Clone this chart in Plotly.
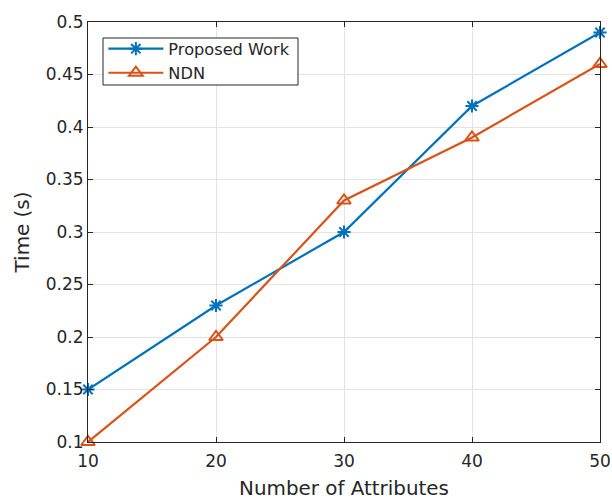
import plotly.graph_objects as go

attributes = [10, 20, 30, 40, 50]
proposed_work = [0.15, 0.23, 0.30, 0.42, 0.49]
ndn = [0.10, 0.20, 0.33, 0.39, 0.46]
x_ticks = [10, 20, 30, 40, 50]
y_ticks = [0.1, 0.15, 0.2, 0.25, 0.3, 0.35, 0.4, 0.45, 0.5]
y_tick_text = ["0.1", "0.15", "0.2", "0.25", "0.3", "0.35", "0.4", "0.45", "0.5"]

FONT = "DejaVu Sans"
TXT = "#262626"

fig = go.Figure()
fig.add_trace(go.Scatter(
    x=attributes, y=proposed_work, name="Proposed Work", mode="lines+markers",
    line=dict(color="#0072BD", width=2.2),
    marker=dict(symbol="asterisk-open", size=11, color="#0072BD",
                line=dict(color="#0072BD", width=2)),
    cliponaxis=False,
))
fig.add_trace(go.Scatter(
    x=attributes, y=ndn, name="NDN", mode="lines+markers",
    line=dict(color="#D95319", width=2.2),
    marker=dict(symbol="triangle-up-open", size=12, color="#D95319",
                line=dict(color="#D95319", width=2)),
    cliponaxis=False,
))

axis_common = dict(
    showline=True, linecolor=TXT, linewidth=1, mirror="ticks",
    ticks="inside", ticklen=5, tickwidth=1, tickcolor=TXT,
    showgrid=True, gridcolor="#E3E3E3", gridwidth=1, automargin=False,
    zeroline=False, tickfont=dict(family=FONT, size=17, color=TXT),
)

# legend frame (MATLAB style box)
fig.add_shape(type="rect", xref="paper", yref="paper",
              x0=(103 - 88) / 512, x1=(298 - 88) / 512,
              y0=(442 - 85) / 420, y1=(442 - 38) / 420,
              fillcolor="white", line=dict(color=TXT, width=1), layer="above")

fig.update_layout(
    width=612, height=500,
    margin=dict(l=88, r=12, t=22, b=58),
    paper_bgcolor="white", plot_bgcolor="white",
    font=dict(family=FONT, color=TXT),
    xaxis=dict(range=[10, 50], tickvals=x_ticks, ticktext=[str(v) for v in x_ticks],
               ticklabelstandoff=4,
               title=dict(text="Number of Attributes", font=dict(family=FONT, size=19.9, color=TXT), standoff=17),
               **axis_common),
    yaxis=dict(range=[0.1, 0.5], tickvals=y_ticks, ticktext=y_tick_text,
               title=dict(text="Time (s)", font=dict(family=FONT, size=19.9, color=TXT), standoff=10),
               **axis_common),
    legend=dict(x=0.03, y=0.977, xanchor="left", yanchor="top",
                bgcolor="rgba(0,0,0,0)", borderwidth=0,
                font=dict(family=FONT, size=16.2, color=TXT),
                tracegroupgap=0, itemwidth=55),
    showlegend=True,
)

fig.write_html("out.html")
